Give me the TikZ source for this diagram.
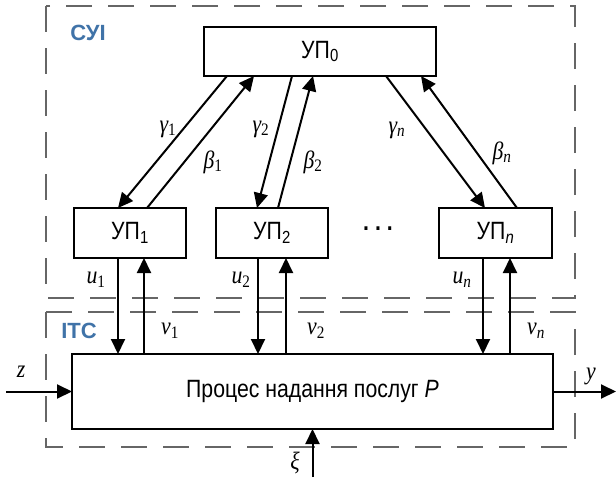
\documentclass[tikz,border=0pt]{standalone}
\usepackage{fontspec}
\setmainfont{Liberation Sans}[FakeStretch=0.85]
\newfontfamily\tnr{Liberation Serif}[FakeStretch=0.87]
\newfontfamily\zonefont{Liberation Sans}
\usetikzlibrary{arrows.meta,calc,positioning}
\definecolor{sysBlue}{rgb}{0.25,0.45,0.66}
\newcommand{\lblvar}[2]{{\tnr\itshape #1\textsubscript{\upshape #2}}}

\begin{document}
\begin{tikzpicture}[x=1pt,y=-1pt,
    every node/.style={font=\fontsize{25}{28}\selectfont},
    blk/.style={draw,line width=2.1pt,inner sep=0pt,outer sep=0pt},
    arr/.style={line width=2pt,-{Triangle[length=15pt,width=14pt]}},
    zone/.style={draw=black!60,line width=1.6pt,dash pattern=on 26pt off 16pt},
    zonelabel/.style={text=sysBlue,font=\fontsize{22}{26}\selectfont\zonefont\bfseries}]

  \useasboundingbox (0,0) rectangle (616,477);

  % draw the zones
  \draw[zone] (46,6) rectangle (575,298);
  \draw[zone] (46,312) rectangle (575,447);
  \node[zonelabel] (csi) at (88,33) {СУІ};
  \node[zonelabel] (itc) at (79,331) {ІТС};

  % draw the blocks
  \node[blk,minimum width=232pt,minimum height=49pt] (up0) at (320,51.5) {УП\textsubscript{0}};
  \foreach \n/\x/\w/\s in {1/130/112/1, 2/272/112/2, n/495.5/113/{\itshape n}}
    \node[blk,minimum width=\w pt,minimum height=50pt] (up\n) at (\x,233) {УП\textsubscript{\s}};
  \node (dots) at (378,229) {\textbf{.\hspace{6pt}.\hspace{6pt}.}};
  \node[blk,minimum width=481pt,minimum height=75pt] (proc) at (312.5,391.5) {Процес надання послуг \textit{P}};

  % draw the gamma / beta links
  \foreach \n/\xa/\xb/\xc/\xd in {1/227/118/147/254, 2/292/257/278/313, n/386/485/517/421}
  {
    \draw[arr] (\xa,0 |- up0.south) -- (\xb,0 |- up\n.north);
    \draw[arr] (\xc,0 |- up\n.north) -- (\xd,0 |- up0.south);
  }

  % draw the u / v links
  \foreach \n/\xu/\xv in {1/118/144, 2/258/286, n/483/510}
  {
    \draw[arr] (\xu,0 |- up\n.south) -- (\xu,0 |- proc.north);
    \draw[arr] (\xv,0 |- proc.north) -- (\xv,0 |- up\n.south);
  }

  % inputs and output
  \coordinate (zin) at (6,391.5);
  \coordinate (yout) at (616,391.5);
  \coordinate (xiin) at (312.5,477);
  \draw[arr] (zin) -- (proc.west);
  \draw[arr] (proc.east) -- (yout);
  \draw[arr] (xiin) -- (proc.south);

  % label all the signals
  \node (g1) at (168,129) {\lblvar{γ}{1}};
  \node (b1) at (213,162) {\lblvar{β}{1}};
  \node (g2) at (261,129) {\lblvar{γ}{2}};
  \node (b2) at (313,162) {\lblvar{β}{2}};
  \node (gn) at (397,130) {\lblvar{γ}{\itshape n}};
  \node (bn) at (502,153) {\lblvar{β}{\itshape n}};
  \node (u1) at (96,280) {\lblvar{u}{1}};
  \node (u2) at (241,280) {\lblvar{u}{2}};
  \node (un) at (462,280) {\lblvar{u}{\itshape n}};
  \node (v1) at (170,331) {\lblvar{v}{1}};
  \node (v2) at (316,331) {\lblvar{v}{2}};
  \node (vn) at (536,331) {\lblvar{v}{\itshape n}};
  \node (z) at (21,372) {{\tnr\itshape z}};
  \node (y) at (591,376) {{\tnr\itshape y}};
  \node (xi) at (295,463) {{\tnr\itshape ξ}};

\end{tikzpicture}
\end{document}
